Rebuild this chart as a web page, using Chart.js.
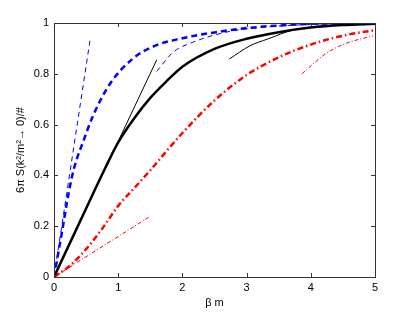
<!DOCTYPE html>
<html>
<head>
<meta charset="utf-8">
<script src="https://cdn.jsdelivr.net/npm/chart.js@4"></script>
<style>
  html, body { margin: 0; padding: 0; background: #fff; }
  #wrap { width: 415px; height: 313px; }
</style>
</head>
<body>
<div id="wrap"><canvas id="chart" width="415" height="313"></canvas></div>
<script>
// values
const xTicks = [0, 1, 2, 3, 4, 5];
const yTicks = [0, 0.2, 0.4, 0.6, 0.8, 1];

// thick blue dashed
const blueX = [0, 0.12, 0.2, 0.275, 0.35, 0.45, 0.6, 0.87, 1.23, 1.57, 2, 2.5, 3, 3.5, 4, 5];
const blueY = [0, 0.17, 0.29, 0.39, 0.46, 0.53, 0.63, 0.76, 0.86, 0.91, 0.94, 0.963, 0.98, 0.99, 0.997, 1];
// thin blue dashed: small and large beta m approximations
const blueLowX = [0, 0.56];
const blueLowY = [0, 0.93];
const blueHighX = [1.6, 1.86, 2.17, 2.7, 3.2, 3.7, 4.3, 5];
const blueHighY = [0.81, 0.886, 0.925, 0.965, 0.982, 0.991, 0.996, 0.999];

// thick black solid
const blackX = [0, 0.5, 0.8, 1, 1.25, 1.5, 1.75, 2, 2.5, 3, 3.5, 4, 4.5, 5];
const blackY = [0, 0.27, 0.43, 0.53, 0.625, 0.705, 0.77, 0.828, 0.898, 0.938, 0.964, 0.982, 0.992, 0.997];
// thin black solid
const blackLowX = [0, 1.6];
const blackLowY = [0, 0.855];
const blackHighX = [2.73, 3.05, 3.33, 3.72, 4.25, 5];
const blackHighY = [0.858, 0.91, 0.937, 0.972, 0.99, 0.998];

// thick red dash-dot
const redX = [0, 0.25, 0.5, 0.75, 1, 1.25, 1.5, 1.75, 2, 2.5, 3, 3.5, 4, 4.5, 5];
const redY = [0, 0.045, 0.11, 0.19, 0.28, 0.35, 0.42, 0.495, 0.567, 0.695, 0.795, 0.865, 0.915, 0.95, 0.972];
// thin red dash-dot
const redLowX = [0, 1.48];
const redLowY = [0, 0.236];
const redHighX = [3.86, 4.25, 4.56, 4.97];
const redHighY = [0.8, 0.882, 0.921, 0.949];

function pts(xs, ys) {
    return xs.map((x, i) => ({ x: x, y: ys[i] }));
}

function series(xs, ys, color, width, dash) {
    return {
        data: pts(xs, ys),
        borderColor: color,
        borderWidth: width,
        borderDash: dash,
        pointRadius: 0,
        fill: false,
        cubicInterpolationMode: 'monotone'
    };
}

// MATLAB style box with inward ticks on all four sides
const boxPlugin = {
    id: 'box',
    afterDatasetsDraw(chart) {
        const ctx = chart.ctx;
        const a = chart.chartArea;
        const xs = chart.scales.x;
        const ys = chart.scales.y;
        const len = 4;
        ctx.save();
        ctx.strokeStyle = '#333';
        ctx.lineWidth = 1;
        ctx.beginPath();
        xTicks.forEach(v => {
            const px = Math.round(xs.getPixelForValue(v)) + 0.5;
            ctx.moveTo(px, a.bottom); ctx.lineTo(px, a.bottom - len);
            ctx.moveTo(px, a.top); ctx.lineTo(px, a.top + len);
        });
        yTicks.forEach(v => {
            const py = Math.round(ys.getPixelForValue(v)) + 0.5;
            ctx.moveTo(a.left, py); ctx.lineTo(a.left + len, py);
            ctx.moveTo(a.right, py); ctx.lineTo(a.right - len, py);
        });
        ctx.stroke();
        ctx.strokeRect(Math.round(a.left) + 0.5, Math.round(a.top) + 0.5,
            Math.round(a.right - a.left), Math.round(a.bottom - a.top));
        ctx.restore();
    }
};

const font = { family: "'Liberation Sans', Arial, sans-serif", size: 11 };

new Chart(document.getElementById('chart').getContext('2d'), {
    type: 'line',
    data: {
        datasets: [
            series(blueLowX, blueLowY, '#0000ff', 1, [5, 4]),
            series(blueHighX, blueHighY, '#0000ff', 1, [5, 4]),
            series(blackLowX, blackLowY, '#000000', 1, []),
            series(blackHighX, blackHighY, '#000000', 1, []),
            series(redLowX, redLowY, '#ff0000', 1, [4, 2, 1, 2]),
            series(redHighX, redHighY, '#ff0000', 1, [4, 2, 1, 2]),
            series(blueX, blueY, '#0000ff', 2.5, [6, 4]),
            series(blackX, blackY, '#000000', 2.5, []),
            series(redX, redY, '#ff0000', 2.5, [6, 3, 1.5, 3])
        ]
    },
    options: {
        responsive: false,
        animation: false,
        layout: { padding: { left: 0, top: 23, right: 40, bottom: 0 } },
        plugins: { legend: { display: false }, tooltip: { enabled: false } },
        scales: {
            x: {
                type: 'linear',
                min: 0,
                max: 5,
                afterFit: s => { s.height = 36; },
                afterBuildTicks: s => { s.ticks = xTicks.map(v => ({ value: v })); },
                grid: { display: false, drawTicks: false },
                border: { display: false },
                ticks: { color: '#000', font: font, padding: 4, maxRotation: 0 },
                title: { display: true, text: 'β m', color: '#000', font: font, padding: { top: 0, bottom: 3 } }
            },
            y: {
                type: 'linear',
                min: 0,
                max: 1,
                afterFit: s => { s.width = 54; },
                afterBuildTicks: s => { s.ticks = yTicks.map(v => ({ value: v })); },
                grid: { display: false, drawTicks: false },
                border: { display: false },
                ticks: { color: '#000', font: font, padding: 5, callback: v => String(v) },
                title: { display: true, text: '6π S(k²/m²→ 0)/#', color: '#000', font: font, padding: { top: 14, bottom: 0 } }
            }
        }
    },
    plugins: [boxPlugin]
});
</script>
</body>
</html>
